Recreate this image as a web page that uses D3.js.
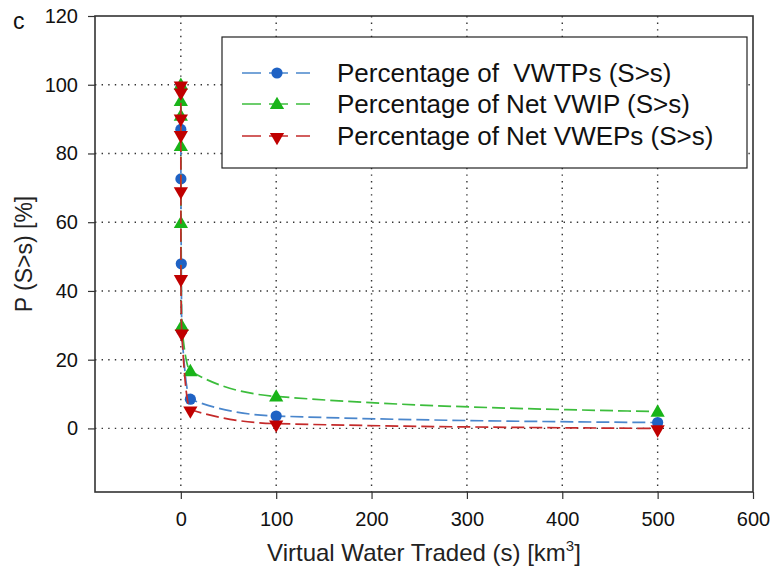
<!DOCTYPE html>
<html>
<head>
<meta charset="utf-8">
<script src="https://cdn.jsdelivr.net/npm/d3@7"></script>
<style>
  html, body { margin: 0; padding: 0; background: #fff; }
  svg { display: block; font-family: "Liberation Sans", Arial, sans-serif; }
</style>
</head>
<body>
<svg id="chart" width="775" height="572"></svg>
<script>
// Exceedance curves: share of items whose traded virtual water S exceeds s.
const sVWTP = [0.001, 0.01, 0.1, 0.5, 1, 10, 100, 500];
const pVWTP = [99, 87, 72.6, 47.9, 28.5, 8.5, 3.6, 1.7];

const sVWIP = [0.001, 0.005, 0.01, 0.05, 0.1, 1, 10, 100, 500];
const pVWIP = [100, 95.3, 91, 82.2, 59.8, 29.8, 16.7, 9.3, 4.9];

const sVWEP = [0.001, 0.002, 0.005, 0.01, 0.05, 0.1, 1, 10, 100, 500];
const pVWEP = [100, 98, 90.4, 85.6, 69.3, 43.7, 27.9, 5.5, 1.4, 0];

const seriesNames = ["Percentage of  VWTPs (S>s)", "Percentage of Net VWIP (S>s)", "Percentage of Net VWEPs (S>s)"];
const xTicks = [0, 100, 200, 300, 400, 500, 600];
const yTicks = [0, 20, 40, 60, 80, 100, 120];
const xGrid = [0, 100, 200, 300, 400, 500];
const yGrid = [0, 20, 40, 60, 80, 100];

const series = [
  { name: seriesNames[0], s: sVWTP, p: pVWTP, line: "#4a86cc", fill: "#1f62c4", shape: "circle" },
  { name: seriesNames[1], s: sVWIP, p: pVWIP, line: "#3cbd3c", fill: "#19b419", shape: "up" },
  { name: seriesNames[2], s: sVWEP, p: pVWEP, line: "#c42a2a", fill: "#c00000", shape: "down" }
];

const svg = d3.select("#chart");
const L = 95, R = 753, T = 16, B = 492;

const x = d3.scaleLinear().domain([-90, 600]).range([L, R]);
const y = d3.scaleLinear().domain([-18.5, 120]).range([B, T]);

// dotted grid
const grid = svg.append("g");
grid.selectAll("line.h").data(yGrid).join("line")
  .attr("x1", L).attr("x2", R)
  .attr("y1", d => y(d)).attr("y2", d => y(d))
  .attr("stroke", "#333").attr("stroke-width", 1.4).attr("stroke-dasharray", "1.4,5.2");
grid.selectAll("line.v").data(xGrid).join("line")
  .attr("y1", T).attr("y2", B)
  .attr("x1", d => x(d)).attr("x2", d => x(d))
  .attr("stroke", "#333").attr("stroke-width", 1.4).attr("stroke-dasharray", "1.4,5.2");

// axes
const xAxis = d3.axisBottom(x).tickValues(xTicks).tickSize(7).tickPadding(13);
const yAxis = d3.axisLeft(y).tickValues(yTicks).tickSize(7).tickPadding(10);

const gx = svg.append("g").attr("transform", `translate(0,${B})`).call(xAxis);
const gy = svg.append("g").attr("transform", `translate(${L},0)`).call(yAxis);
[gx, gy].forEach(g => {
  g.select(".domain").remove();
  g.selectAll(".tick line").attr("stroke", "#333").attr("stroke-width", 1.2);
  g.selectAll(".tick text").attr("fill", "#111").attr("font-size", 20)
    .attr("font-family", "'Liberation Sans', Arial, sans-serif");
});

// frame
svg.append("rect").attr("x", L).attr("y", T).attr("width", R - L).attr("height", B - T)
  .attr("fill", "none").attr("stroke", "#333").attr("stroke-width", 1.6);

// markers
const triUp = d3.symbol().type(d3.symbolTriangle).size(88);
function drawMarker(g, shape, fill) {
  if (shape === "circle") {
    g.append("circle").attr("r", 5.6).attr("fill", fill);
  } else {
    g.append("path").attr("d", triUp())
      .attr("transform", shape === "down" ? "rotate(180) translate(0,-1)" : "translate(0,1)")
      .attr("fill", fill);
  }
}

const lineGen = d3.line().curve(d3.curveMonotoneX);

series.forEach(sr => {
  const pts = sr.s.map((s, i) => [x(s), y(sr.p[i])]);
  svg.append("path").attr("d", lineGen(pts))
    .attr("fill", "none").attr("stroke", sr.line).attr("stroke-width", 1.7)
    .attr("stroke-dasharray", "13,5");
  svg.append("g").selectAll("g").data(pts).join("g")
    .attr("transform", d => `translate(${d[0]},${d[1]})`)
    .each(function () { drawMarker(d3.select(this), sr.shape, sr.fill); });
});

// legend
const lg = svg.append("g");
lg.append("rect").attr("x", 222).attr("y", 37).attr("width", 525).attr("height", 131)
  .attr("fill", "#fff").attr("stroke", "#222").attr("stroke-width", 1.2);
const rowY = [73, 104, 136];
series.forEach((sr, i) => {
  const r = lg.append("g").attr("transform", `translate(0,${rowY[i]})`);
  r.append("line").attr("x1", 242).attr("x2", 310).attr("y1", 0).attr("y2", 0)
    .attr("stroke", sr.line).attr("stroke-width", 1.7).attr("stroke-dasharray", "19,8");
  const m = r.append("g").attr("transform", "translate(277,0)");
  drawMarker(m, sr.shape, sr.fill);
  r.append("text").attr("x", 337).attr("y", 9).attr("font-size", 26).attr("fill", "#111")
    .style("white-space", "pre").text(sr.name);
});

// axis titles
const xt = svg.append("text").attr("x", 424).attr("y", 561).attr("text-anchor", "middle")
  .attr("font-size", 24).attr("fill", "#222");
xt.append("tspan").text("Virtual Water Traded (s) [km");
xt.append("tspan").attr("font-size", 15).attr("dy", -10).text("3");
xt.append("tspan").attr("dy", 10).text("]");

svg.append("text").attr("transform", "translate(32,254) rotate(-90)")
  .attr("text-anchor", "middle").attr("font-size", 23).attr("fill", "#222")
  .text("P (S>s) [%]");

svg.append("text").attr("x", 13).attr("y", 29).attr("font-size", 23).attr("fill", "#111").text("c");
</script>
</body>
</html>
